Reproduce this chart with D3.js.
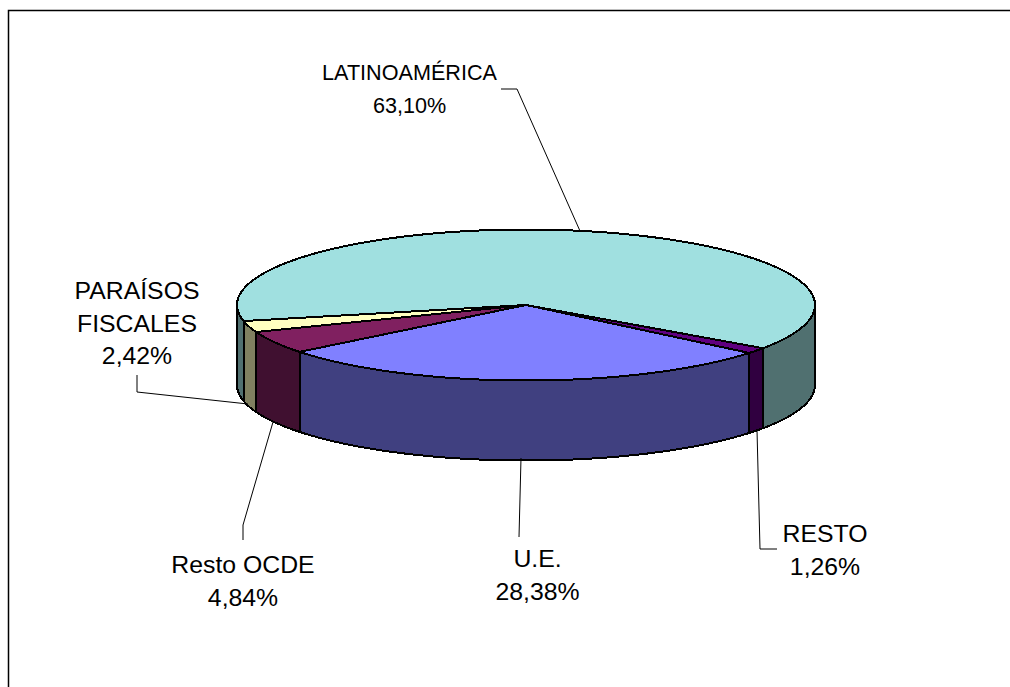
<!DOCTYPE html>
<html><head><meta charset="utf-8">
<script src="https://cdn.jsdelivr.net/npm/d3@7"></script>
<style>html,body{margin:0;padding:0;background:#fff}svg{display:block}
text{font-family:"Liberation Sans",Arial,sans-serif;fill:#000}</style>
</head><body><svg id="c" width="1010" height="687"></svg>
<script>
const categories=["RESTO","U.E.","Resto OCDE","PARAÍSOS FISCALES","LATINOAMÉRICA"];
const values=[1.26,28.38,4.84,2.42,63.10];
const topColors=["#600080","#8080FF","#802060","#FFFFC0","#A0E0E0"];
const sideColors=["#300040","#404080","#401030","#808060","#507070"];
const labelLines=[["RESTO","1,26%"],["U.E.","28,38%"],["Resto OCDE","4,84%"],["PARAÍSOS","FISCALES","2,42%"],["LATINOAMÉRICA","63,10%"]];
const labelAnchors=[[825,542],[537.5,567],[243,573],[137,299],[409.5,80]];
const labelSizes=[24.8,24.8,24.8,24.8,21.6];
const leaders=[[[757,430],[760,549],[777,549]],[[521,458],[519,537]],[[273,422],[243,525],[243,540]],[[248,404],[137,392],[137,375]],[[580,231],[517,89],[501,89]]];

const svg=d3.select("#c");
const px=d3.scaleLinear([-1,1],[237,815]);
const py=d3.scaleLinear([-1,1],[229.5,380.5]);
const depth=80;
const startDeg=124.9;
const pie=d3.pie().sort(null).startAngle(startDeg*Math.PI/180).endAngle((startDeg+360)*Math.PI/180);
const arcs=pie(values);
const pt=a=>[Math.sin(a),-Math.cos(a)];
const ellipse=(a0,a1)=>{const n=Math.max(2,Math.ceil((a1-a0)*60));return d3.range(n+1).map(i=>pt(a0+(a1-a0)*i/n));};
const line=d3.line().x(d=>px(d[0])).y(d=>py(d[1]));

svg.append("path").attr("d","M8.5,687V10.5H1010").attr("fill","none").attr("stroke","#000").attr("stroke-width",1.5);

const R=[[Math.PI/2,3*Math.PI/2],[Math.PI/2+2*Math.PI,3*Math.PI/2+2*Math.PI]];
const g=svg.append("g").attr("stroke","#000").attr("stroke-width",2).attr("stroke-linejoin","round").attr("shape-rendering","crispEdges");
arcs.forEach((d,i)=>{R.forEach(r=>{
  const a0=Math.max(d.startAngle,r[0]),a1=Math.min(d.endAngle,r[1]);
  if(a1<=a0)return;
  const t=ellipse(a0,a1).map(p=>[px(p[0]),py(p[1])]);
  const b=t.slice().reverse().map(p=>[p[0],p[1]+depth]);
  g.append("path").attr("d",d3.line()(t.concat(b))+"Z").attr("fill",sideColors[i]);
});});
arcs.forEach((d,i)=>{
  const pts=[[0,0]].concat(ellipse(d.startAngle,d.endAngle));
  g.append("path").attr("d",line(pts)+"Z").attr("fill",topColors[i]);
});
const lg=svg.append("g").attr("fill","none").attr("stroke","#000").attr("stroke-width",1);
leaders.forEach(l=>lg.append("path").attr("d",d3.line()(l)));
labelLines.forEach((ls,i)=>{
  const t=svg.append("text").attr("text-anchor","middle").style("font-size",labelSizes[i]+"px");
  ls.forEach((s,j)=>t.append("tspan").attr("x",labelAnchors[i][0]).attr("y",labelAnchors[i][1]+j*32.5).text(s));
});
</script></body></html>
